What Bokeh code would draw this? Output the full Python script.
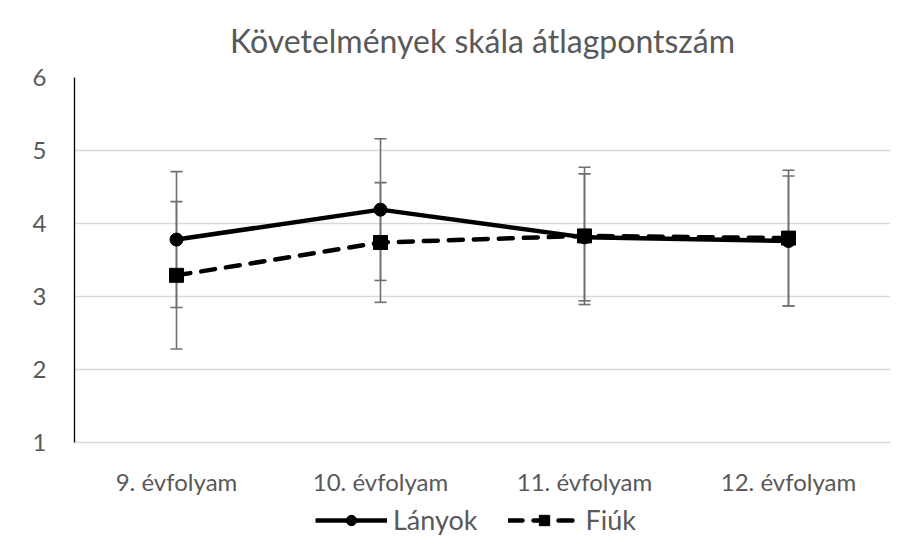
from bokeh.plotting import figure
from bokeh.models import ColumnDataSource, Whisker, TeeHead, Legend, LegendItem, FactorRange
from bokeh.embed import file_html
from bokeh.resources import INLINE

categories = ["9. évfolyam", "10. évfolyam", "11. évfolyam", "12. évfolyam"]
lanyok = [3.78, 4.19, 3.81, 3.76]
lanyok_err = [0.93, 0.97, 0.87, 0.89]
fiuk = [3.29, 3.74, 3.83, 3.80]
fiuk_err = [1.01, 0.82, 0.94, 0.93]
y_ticks = [1, 2, 3, 4, 5, 6]

FONT = "Lato"
GREY = "#595959"
Y_MIN, Y_MAX = 1, 6
PX_PER_UNIT = 73
EXTRA_BELOW_PX = 96   # room under the value axis for category labels and legend

src_l = ColumnDataSource(dict(x=categories, y=lanyok,
                              lo=[v - e for v, e in zip(lanyok, lanyok_err)],
                              hi=[v + e for v, e in zip(lanyok, lanyok_err)]))
src_f = ColumnDataSource(dict(x=categories, y=fiuk,
                              lo=[v - e for v, e in zip(fiuk, fiuk_err)],
                              hi=[v + e for v, e in zip(fiuk, fiuk_err)]))
src_lab = ColumnDataSource(dict(x=categories, y=[Y_MIN] * len(categories), text=categories))

y_lo = Y_MIN - EXTRA_BELOW_PX / PX_PER_UNIT
frame_h = (Y_MAX - Y_MIN) * PX_PER_UNIT + EXTRA_BELOW_PX

p = figure(x_range=FactorRange(*categories), y_range=(y_lo, Y_MAX),
           frame_width=816, frame_height=frame_h, output_backend="svg", toolbar_location=None,
           min_border_left=74, min_border_right=3, min_border_top=77, min_border_bottom=2)

p.title.text = "Követelmények skála átlagpontszám"
p.title.align = "center"
p.title.text_font = FONT
p.title.text_font_size = "32px"
p.title.text_font_style = "normal"
p.title.text_color = GREY
p.title.standoff = 36

p.outline_line_color = None
p.xaxis.visible = False
p.xgrid.grid_line_color = None
p.ygrid.ticker = y_ticks
p.ygrid.grid_line_color = "#d9d9d9"
p.ygrid.grid_line_width = 1.3
p.yaxis.ticker = y_ticks
p.yaxis.bounds = (Y_MIN, Y_MAX)
p.yaxis.axis_line_color = "black"
p.yaxis.axis_line_width = 1.3
p.yaxis.major_tick_line_color = None
p.yaxis.minor_tick_line_color = None
p.yaxis.major_label_text_font = FONT
p.yaxis.major_label_text_font_size = "24px"
p.yaxis.major_label_text_color = GREY
p.yaxis.major_label_standoff = 22

# category labels under the baseline
p.text("x", "y", text="text", source=src_lab, y_offset=39,
       text_align="center", text_baseline="middle",
       text_font_size="24px", text_color=GREY, text_font={"value": FONT})

for src in (src_l, src_f):
    w = Whisker(base="x", upper="hi", lower="lo", source=src,
                line_color="#6f6f6f", line_width=1.6,
                upper_head=TeeHead(size=12, line_color="#6f6f6f", line_width=1.6),
                lower_head=TeeHead(size=12, line_color="#6f6f6f", line_width=1.6))
    p.add_layout(w)

l1 = p.line("x", "y", source=src_l, line_color="black", line_width=4.5)
m1 = p.scatter("x", "y", source=src_l, marker="circle", size=13, color="black")
l2 = p.line("x", "y", source=src_f, line_color="black", line_width=4.5,
            line_dash="14 11", line_cap="round")
m2 = p.scatter("x", "y", source=src_f, marker="square", size=14, color="black")

legend = Legend(items=[LegendItem(label="Lányok", renderers=[l1, m1]),
                       LegendItem(label="Fiúk", renderers=[l2, m2])],
                orientation="horizontal", location=(241, 2),
                label_text_font=FONT, label_text_font_size="27px",
                label_text_color=GREY, glyph_width=72, glyph_height=26,
                spacing=30, border_line_color=None, padding=0, margin=0,
                background_fill_alpha=0, label_standoff=6)
p.add_layout(legend, "center")

open("out.html", "w").write(file_html(p, INLINE))
